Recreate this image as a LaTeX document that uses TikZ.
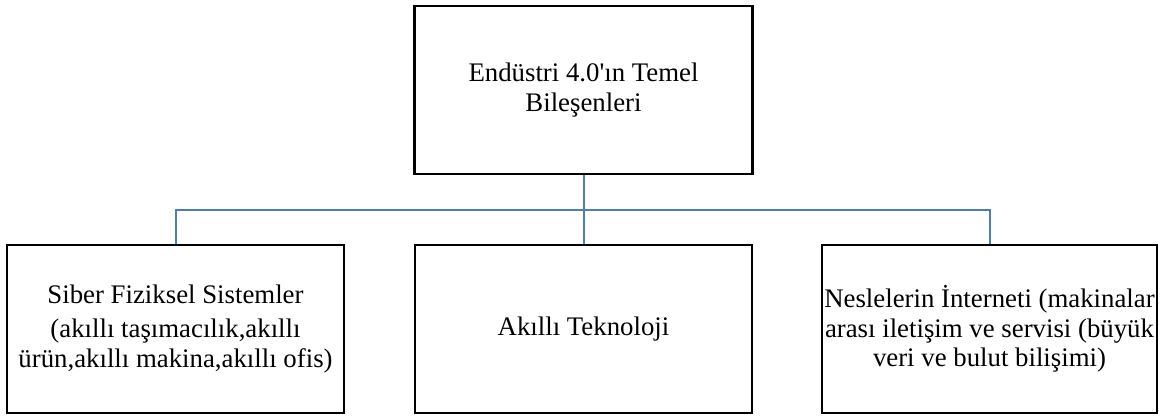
\documentclass[tikz,border=0pt]{standalone}
\usepackage{fontspec}
\newfontfamily\rawserif{Liberation Serif}
\definecolor{conn}{HTML}{4A7EBB}
\tikzset{
  boxnode/.style={draw=black, line width=2.4pt, rectangle, inner sep=0pt, align=center,
    minimum height=168pt, font=\rawserif\fontsize{26.8}{29.5}\selectfont},
  connline/.style={draw=conn, line width=2pt}
}
\begin{document}
\begin{tikzpicture}[x=1pt,y=-1pt]
\useasboundingbox (0,0) rectangle (1160,418);
\node[boxnode, minimum width=338pt] (top) at (583.5,90) {Endüstri 4.0'ın Temel\\Bileşenleri};
\node[boxnode, minimum width=337pt] (left) at (175.5,329) {Siber Fiziksel Sistemler\\[5pt](akıllı taşımacılık,akıllı\\ürün,akıllı makina,akıllı ofis)};
\node[boxnode, minimum width=337pt] (mid) at (583.5,329) {Akıllı Teknoloji};
\node[boxnode, minimum width=335pt] (right) at (989.5,329) {Neslelerin İnterneti (makinalar\\arası iletişim ve servisi (büyük\\veri ve bulut bilişimi)};
\coordinate (bus) at (0,210);
\draw[connline] (top.south) -- (mid.north);
\draw[connline] (left.north) -- (left.north |- bus) -- (right.north |- bus) -- (right.north);
\end{tikzpicture}
\end{document}
